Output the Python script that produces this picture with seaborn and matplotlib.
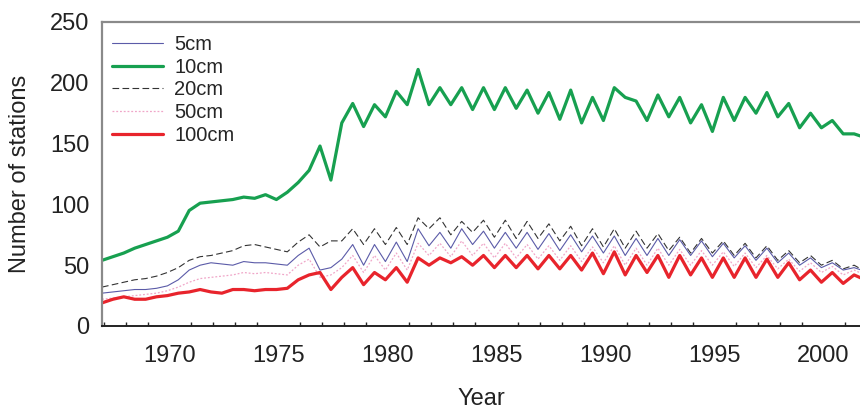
import numpy as np
import pandas as pd
import matplotlib
matplotlib.use("Agg")
import matplotlib.pyplot as plt
import seaborn as sns

# half-yearly samples starting 1966.9 (values at Y.4 and Y.9)
start_year = 1966.9
step = 0.5

cm10 = [54,
        57, 60, 64, 67, 70, 73, 78, 95, 101, 102,
        103, 104, 106, 105, 108, 104, 110, 118, 128, 148,
        120, 167, 183, 164, 182, 172, 193, 182, 211, 182,
        196, 182, 196, 178, 196, 178, 196, 179, 194, 175,
        192, 170, 194, 167, 188, 169, 196, 188, 185, 169,
        190, 172, 188, 167, 182, 160, 188, 169, 188, 175,
        192, 172, 183, 163, 175, 163, 169, 158, 158, 155]

cm20 = [32,
        34, 36, 38, 39, 41, 44, 48, 54, 57, 58,
        60, 62, 66, 67, 65, 63, 61, 69, 75, 65,
        70, 70, 80, 67, 80, 67, 81, 67, 89, 80,
        89, 75, 86, 77, 87, 73, 87, 72, 86, 72,
        84, 70, 82, 66, 80, 65, 80, 64, 78, 64,
        76, 62, 73, 60, 72, 60, 70, 58, 68, 56,
        66, 54, 62, 52, 58, 50, 54, 47, 50, 45]

cm5 = [27,
       28, 29, 30, 30, 31, 33, 38, 46, 50, 52,
       51, 50, 53, 52, 52, 51, 50, 58, 64, 46,
       48, 55, 67, 50, 67, 53, 69, 53, 80, 66,
       77, 64, 80, 67, 78, 64, 77, 64, 77, 63,
       76, 62, 75, 61, 74, 60, 74, 58, 72, 58,
       72, 58, 71, 58, 70, 57, 68, 56, 66, 54,
       64, 52, 60, 50, 56, 48, 52, 46, 48, 45]

cm50 = [22,
        23, 24, 25, 26, 27, 29, 32, 36, 39, 40,
        41, 42, 44, 43, 44, 43, 42, 50, 55, 40,
        42, 48, 58, 44, 58, 46, 60, 46, 68, 58,
        68, 57, 70, 58, 68, 56, 68, 56, 67, 55,
        66, 54, 66, 53, 65, 52, 66, 50, 64, 50,
        64, 50, 63, 50, 62, 50, 61, 49, 60, 48,
        58, 47, 55, 45, 52, 44, 49, 42, 46, 42]

cm100 = [19,
         22, 24, 22, 22, 24, 25, 27, 28, 30, 28,
         27, 30, 30, 29, 30, 30, 31, 38, 42, 44,
         30, 40, 48, 34, 44, 38, 48, 36, 56, 50,
         56, 52, 57, 50, 58, 48, 58, 48, 58, 47,
         58, 47, 58, 46, 60, 43, 61, 42, 58, 44,
         58, 40, 58, 42, 56, 40, 56, 40, 56, 40,
         55, 40, 52, 38, 46, 36, 44, 35, 42, 38]

labels = ["5cm", "10cm", "20cm", "50cm", "100cm"]
y_ticks = [0, 50, 100, 150, 200, 250]
x_ticks = [1970, 1975, 1980, 1985, 1990, 1995, 2000]

years = start_year + step * np.arange(len(cm10))

sns.set_theme(style="white")
plt.rcParams["font.family"] = ["Liberation Sans", "DejaVu Sans"]

fig = plt.figure(figsize=(8.6, 4.13), dpi=100)
ax = fig.add_axes([102/860, 1-326/413, 758/860, 304/413])

series = {
    "5cm": (cm5, dict(color="#5b5ba8", lw=0.8)),
    "10cm": (cm10, dict(color="#17a050", lw=2.3)),
    "20cm": (cm20, dict(color="#333333", lw=0.8, dashes=(6, 3))),
    "50cm": (cm50, dict(color="#f0a6c8", lw=0.9, dashes=(1.5, 1.5))),
    "100cm": (cm100, dict(color="#e8242c", lw=2.3)),
}
handles = {}
for name in ["10cm", "20cm", "5cm", "50cm", "100cm"]:
    vals, st = series[name]
    df = pd.DataFrame({"year": years, "n": vals})
    kw = dict(color=st["color"], linewidth=st["lw"])
    sns.lineplot(data=df, x="year", y="n", ax=ax, **kw)
    line = ax.lines[-1]
    if "dashes" in st:
        line.set_dashes(st["dashes"])
    line.set_label(name)
    handles[name] = line

ax.set_xlim(1966.9, 1966.9 + 758/21.8)
ax.set_ylim(0, 250)
ax.set_xticks(x_ticks)
ax.set_xticks(np.arange(1967, 2002), minor=True)
ax.set_yticks(y_ticks)
ax.tick_params(axis="both", which="major", direction="in", length=5, width=1,
               labelsize=17, colors="#222222")
ax.tick_params(axis="x", which="major", pad=14)
ax.tick_params(axis="y", which="major", pad=9)
ax.tick_params(axis="x", which="minor", direction="in", length=3, width=1,
               bottom=True)
ax.set_xlabel("Year", fontsize=17, labelpad=15, color="#222222")
ax.set_ylabel("Number of stations", fontsize=17, labelpad=14, color="#222222")

for s in ["top", "left"]:
    ax.spines[s].set_color("#8a8a8a")
    ax.spines[s].set_linewidth(1.6)
ax.spines["bottom"].set_color("#222222")
ax.spines["bottom"].set_linewidth(1.4)
ax.spines["right"].set_visible(False)

leg = ax.legend([handles[n] for n in labels], labels, loc="upper left",
                bbox_to_anchor=(0.013, 0.957), frameon=False, fontsize=14.5,
                handlelength=2.55, handletextpad=0.55, labelspacing=0.18,
                borderaxespad=0, borderpad=0)

fig.savefig("out.png", dpi=100)
